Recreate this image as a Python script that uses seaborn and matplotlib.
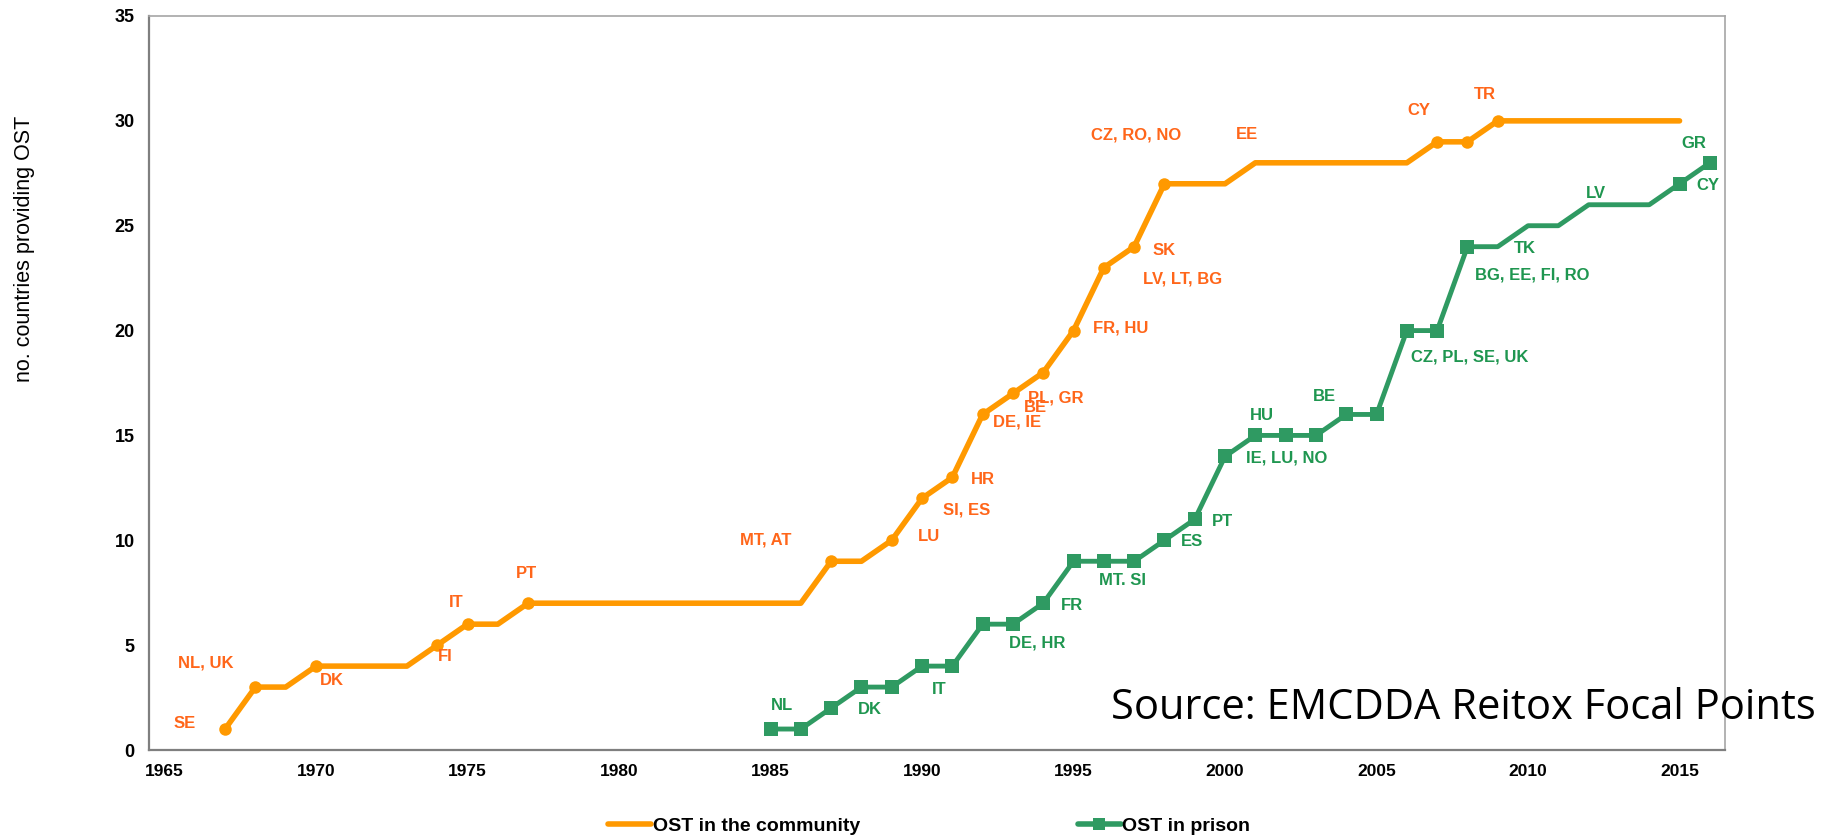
import matplotlib
matplotlib.use("Agg")
import matplotlib.pyplot as plt
from matplotlib.lines import Line2D
import seaborn as sns

# OST in the community
comm_years = list(range(1967, 2016))
comm_counts = [1, 3, 3, 4, 4, 4, 4, 5, 6, 6, 7,
               7, 7, 7, 7, 7, 7, 7, 7, 7,
               9, 9, 10, 12, 13, 16, 17, 18, 20, 23, 24, 27,
               27, 27, 28, 28, 28, 28, 28, 28, 29, 29, 30,
               30, 30, 30, 30, 30, 30]
comm_marked = [1967, 1968, 1970, 1974, 1975, 1977, 1987, 1989, 1990, 1991,
               1992, 1993, 1994, 1995, 1996, 1997, 1998, 2007, 2008, 2009]
comm_labels = ["SE", "NL, UK", "DK", "FI", "IT", "PT", "MT, AT", "LU", "SI, ES", "HR",
               "DE, IE", "BE", "PL, GR", "FR, HU", "LV, LT, BG", "SK", "CZ, RO, NO",
               "EE", "CY", "TR"]
comm_label_years = [1967, 1968, 1970, 1974, 1975, 1977, 1987, 1989, 1990, 1991,
                    1992, 1993, 1994, 1995, 1996, 1997, 1998, 2001, 2007, 2009]

# OST in prison
prison_years = list(range(1985, 2017))
prison_counts = [1, 1, 2, 3, 3, 4, 4, 6, 6, 7, 9, 9, 9, 10, 11, 14, 15, 15, 15,
                 16, 16, 20, 20, 24, 24, 25, 25, 26, 26, 26, 27, 28]
prison_marked = list(range(1985, 2009)) + [2015, 2016]
prison_labels = ["NL", "DK", "IT", "DE, HR", "FR", "MT. SI", "ES", "PT", "IE, LU, NO",
                 "HU", "BE", "CZ, PL, SE, UK", "BG, EE, FI, RO", "TK", "LV", "CY", "GR"]
prison_label_years = [1985, 1988, 1990, 1992, 1994, 1996, 1998, 1999, 2000,
                      2001, 2004, 2006, 2008, 2009, 2012, 2015, 2016]

# label offsets from their point (years, counts)
comm_offsets = [(-1.32, 0.24), (-1.63, 1.17), (0.51, -0.70), (0.26, -0.55), (-0.37, 1.05),
                (-0.04, 1.42), (-2.16, 1.03), (1.23, 0.16), (1.47, -0.57), (1.0, -0.11),
                (1.14, -0.34), (0.75, -0.66), (0.41, -1.23), (1.54, 0.1), (2.59, -0.56),
                (0.99, -0.18), (-0.95, 2.32), (-0.27, 1.37), (-0.6, 1.48), (-0.44, 1.27)]
prison_offsets = [(0.38, 1.11), (0.29, -1.08), (0.57, -1.1), (1.81, -0.91), (0.94, -0.09),
                  (0.62, -0.92), (0.91, -0.08), (0.91, -0.1), (2.05, -0.08), (0.21, 0.93),
                  (-0.73, 0.85), (2.09, -1.25), (2.14, -1.37), (0.89, -0.1), (0.24, 0.52),
                  (0.93, -0.09), (-0.53, 0.93)]

orange = "#FF9900"
orange_txt = "#FF661A"
green = "#2F9A62"
green_txt = "#1F9650"

sns.set_style("white")
plt.rcParams["font.family"] = ["Liberation Sans", "DejaVu Sans"]
plt.rcParams["text.color"] = "black"
plt.rcParams["xtick.color"] = "black"
plt.rcParams["ytick.color"] = "black"

fig = plt.figure(figsize=(18.25, 8.38), dpi=100)
ax = fig.add_axes([149.35 / 1825, 88 / 838, (1725 - 149.35) / 1825, (750 - 16) / 838])

sns.lineplot(x=comm_years, y=comm_counts, ax=ax, color=orange, linewidth=4,
             marker="o", markersize=9, markeredgewidth=0,
             markevery=[comm_years.index(y) for y in comm_marked],
             errorbar=None, legend=False)
sns.lineplot(x=prison_years, y=prison_counts, ax=ax, color=green, linewidth=3.5,
             marker="s", markersize=10, markeredgewidth=0,
             markevery=[prison_years.index(y) for y in prison_marked],
             errorbar=None, legend=False)

for lab, yr, (dx, dy) in zip(comm_labels, comm_label_years, comm_offsets):
    v = comm_counts[comm_years.index(yr)]
    ax.text(yr + dx, v + dy, lab, ha="center", va="center", color=orange_txt,
            fontsize=12, fontweight="bold", clip_on=False)
for lab, yr, (dx, dy) in zip(prison_labels, prison_label_years, prison_offsets):
    v = prison_counts[prison_years.index(yr)]
    ax.text(yr + dx, v + dy, lab, ha="center", va="center", color=green_txt,
            fontsize=12, fontweight="bold", clip_on=False)

ax.set_xlim(1964.5, 2016.5)
ax.set_ylim(0, 35)
ax.set_yticks(range(0, 36, 5))
ax.set_xticks(range(1965, 2016, 5))
ax.set_xticks([y + 0.5 for y in range(1964, 2016)], minor=True)
ax.tick_params(axis="x", which="major", length=0, pad=10, labelsize=12.5)
ax.tick_params(axis="x", which="minor", length=3.6, width=1, color="#808080", direction="out")
ax.tick_params(axis="y", which="major", length=3.6, width=1, color="#808080",
               direction="out", pad=7, labelsize=13)
for lab in ax.get_xticklabels() + ax.get_yticklabels():
    lab.set_fontweight("bold")
ax.set_xlabel("")
ax.set_ylabel("")
for side in ["left", "bottom"]:
    ax.spines[side].set_color("#7F7F7F")
    ax.spines[side].set_linewidth(1.6)
for side in ["top", "right"]:
    ax.spines[side].set_color("#A6A6A6")
    ax.spines[side].set_linewidth(1.2)

fig.text(25 / 1825, 1 - 248.5 / 838, "no. countries providing OST", rotation=90,
         ha="center", va="center", fontsize=15.5)

fig.text(1816 / 1825, (838 - 719) / 838, "Source: EMCDDA Reitox Focal Points",
         ha="right", va="baseline", fontsize=30, family=["Open Sans", "DejaVu Sans"])

handles = [Line2D([], [], color=orange, linewidth=4),
           Line2D([], [], color=green, linewidth=4, marker="s", markersize=9, markeredgewidth=0)]
fig.legend(handles, ["OST in the community", "OST in prison"], loc="center left",
           bbox_to_anchor=(608 / 1825, 12 / 838), ncol=2, frameon=False,
           handlelength=2.2, handletextpad=0.1, columnspacing=11.2,
           borderpad=0, borderaxespad=0, prop={"size": 14, "weight": "bold"})

fig.savefig("out.png", dpi=100)
